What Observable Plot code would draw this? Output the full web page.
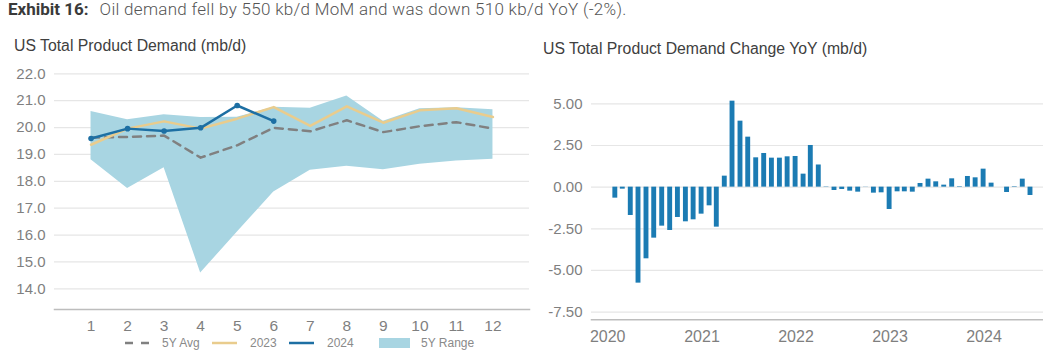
<!DOCTYPE html>
<html>
<head>
<meta charset="utf-8">
<script src="https://cdn.jsdelivr.net/npm/d3@7"></script>
<script src="https://cdn.jsdelivr.net/npm/@observablehq/plot@0.6"></script>
<style>
  html, body { margin: 0; padding: 0; background: #fff; }
  #root { position: relative; width: 1043px; height: 358px; overflow: hidden; font-family: "Liberation Sans", Arial, sans-serif; }
  .abs { position: absolute; }
  #title { left: 8px; top: -1px; font-family: Roboto, sans-serif; font-size: 17px; white-space: nowrap; line-height: 20px; }
  #title b { font-weight: 700; color: #3a3a3a; margin-right: 11px; }
  #title span { font-weight: 300; color: #555; letter-spacing: 0.3px; }
  .ctitle { font-size: 15.8px; color: #404040; white-space: nowrap; }
  .leg { position: absolute; top: 336px; height: 14px; font-size: 12px; color: #8a8a8a; display: flex; align-items: center; white-space: nowrap; }
</style>
</head>
<body>
<div id="root">
  <div id="title" class="abs"><b>Exhibit 16:</b><span>Oil demand fell by 550 kb/d MoM and was down 510 kb/d YoY (-2%).</span></div>
  <div class="abs ctitle" style="left:14px; top:37px;">US Total Product Demand (mb/d)</div>
  <div class="abs ctitle" style="left:543px; top:40px;">US Total Product Demand Change YoY (mb/d)</div>
  <div id="left" class="abs" style="left:0px; top:60px;"></div>
  <div id="right" class="abs" style="left:530px; top:60px;"></div>
  <div id="legend"></div>
</div>
<script>
// ---------- Left chart data (mb/d) ----------
const months = [1, 2, 3, 4, 5, 6, 7, 8, 9, 10, 11, 12];
const range5yLow  = [18.80, 17.73, 18.50, 14.59, 16.10, 17.60, 18.41, 18.56, 18.43, 18.63, 18.76, 18.82];
const range5yHigh = [20.60, 20.29, 20.48, 20.37, 20.38, 20.76, 20.72, 21.17, 20.23, 20.70, 20.74, 20.66];
const avg5y       = [19.63, 19.65, 19.70, 18.88, 19.34, 19.99, 19.86, 20.27, 19.83, 20.05, 20.20, 19.96];
const demand2023  = [19.36, 19.96, 20.23, 19.96, 20.33, 20.76, 20.06, 20.79, 20.18, 20.64, 20.72, 20.39];
const demand2024  = [19.59, 19.96, 19.87, 19.99, 20.82, 20.24];
const leftYTicks  = [14, 15, 16, 17, 18, 19, 20, 21, 22];

// ---------- Right chart data (mb/d YoY change), Jan 2020 .. Jun 2024 ----------
const yoyChange = [
  -0.66, -0.12, -1.70, -5.76, -4.30, -3.06, -2.34, -2.60, -1.82, -2.08, -1.96, -1.62,
  -1.12, -2.40,  0.66,  5.16,  3.96,  3.00,  1.76,  2.02,  1.74,  1.74,  1.82,  1.84,
   0.78,  2.50,  1.33, -0.02, -0.20, -0.14, -0.24, -0.30,  0.01, -0.36, -0.34, -1.34,
  -0.28, -0.28, -0.30,  0.22,  0.48,  0.32,  0.12,  0.50,  0.03,  0.64,  0.56,  1.08,
   0.24,  0.00, -0.32,  0.03,  0.48, -0.50
];
const rightYTicks = [-7.5, -5, -2.5, 0, 2.5, 5];
const yearTicks = [2020, 2021, 2022, 2023, 2024];

// ---------- Colours ----------
const cRange = "#a8d5e2";
const cAvg = "#808080";
const c2023 = "#e9cc8d";
const c2024 = "#1d6fa3";
const cBar = "#1b7bb3";
const cGrid = "#e6e6e6";
const cAxis = "#bdbdbd";
const cTick = "#7f7f7f";

// ---------- Build tables ----------
const rangeData = months.map((m, i) => ({m, lo: range5yLow[i], hi: range5yHigh[i]}));
const avgData = months.map((m, i) => ({m, v: avg5y[i]}));
const d2023 = months.map((m, i) => ({m, v: demand2023[i]}));
const d2024 = demand2024.map((v, i) => ({m: months[i], v}));

const left = Plot.plot({
  width: 529, height: 277,
  marginLeft: 54, marginRight: 0, marginTop: 13.3, marginBottom: 28,
  x: {domain: [0, 13]},
  y: {domain: [13.23, 22]},
  style: {fontFamily: '"Liberation Sans", Arial, sans-serif', fontSize: "15px", color: cTick, background: "transparent", overflow: "visible"},
  marks: [
    Plot.gridY(leftYTicks, {stroke: cGrid, strokeOpacity: 1, strokeWidth: 1.2}),
    Plot.areaY(rangeData, {x: "m", y1: "lo", y2: "hi", fill: cRange, fillOpacity: 1}),
    Plot.lineY(avgData, {x: "m", y: "v", stroke: cAvg, strokeWidth: 2.5, strokeDasharray: "8,6"}),
    Plot.lineY(d2023, {x: "m", y: "v", stroke: c2023, strokeWidth: 2.5}),
    Plot.lineY(d2024, {x: "m", y: "v", stroke: c2024, strokeWidth: 2.5}),
    Plot.dot(d2024, {x: "m", y: "v", r: 2.8, fill: c2024, stroke: "none"}),
    Plot.frame({anchor: "bottom", stroke: cAxis, strokeWidth: 1.5}),
    Plot.axisY({ticks: leftYTicks, tickSize: 0, tickPadding: 9, tickFormat: d => d.toFixed(1), label: null, fontSize: 15}),
    Plot.axisX({ticks: months, tickSize: 0, tickPadding: 10, tickFormat: d => String(d), label: null, fontSize: 15.5})
  ]
});
document.getElementById("left").appendChild(left);

// month-end dates for the bars
const yoyData = yoyChange.map((v, i) => {
  const start = d3.utcMonth.offset(new Date(Date.UTC(2020, 0, 1)), i);
  const end = d3.utcDay.offset(d3.utcMonth.offset(start, 1), -1);
  return {date: end, v};
});
const yearDates = yearTicks.map(y => new Date(Date.UTC(y, 0, 1)));

const right = Plot.plot({
  width: 513, height: 290,
  marginLeft: 61, marginRight: 0, marginTop: 10, marginBottom: 30.7,
  x: {type: "utc", domain: [new Date(Date.UTC(2019, 9, 30)), new Date(Date.UTC(2024, 7, 19))]},
  y: {domain: [-7.96, 7.0]},
  style: {fontFamily: '"Liberation Sans", Arial, sans-serif', fontSize: "15px", color: cTick, background: "transparent", overflow: "visible"},
  marks: [
    Plot.gridY(rightYTicks, {stroke: cGrid, strokeOpacity: 1, strokeWidth: 1.2}),
    Plot.rectY(yoyData, {
      x1: d => d3.utcDay.offset(d.date, -10),
      x2: d => d3.utcDay.offset(d.date, 9),
      y: "v", fill: cBar
    }),
    Plot.frame({anchor: "bottom", stroke: cAxis, strokeWidth: 1.5}),
    Plot.axisY({ticks: rightYTicks, tickSize: 0, tickPadding: 9, tickFormat: d => d.toFixed(2), label: null, fontSize: 15}),
    Plot.axisX({ticks: yearDates, tickSize: 0, tickPadding: 11, tickFormat: d => String(d.getUTCFullYear()), label: null, fontSize: 16})
  ]
});
document.getElementById("right").appendChild(right);

// ---------- Legend (HTML) ----------
const legendItems = [
  {label: "5Y Avg", kind: "dash", color: cAvg, x: 125},
  {label: "2023", kind: "line", color: c2023, x: 212},
  {label: "2024", kind: "line", color: c2024, x: 289},
  {label: "5Y Range", kind: "rect", color: cRange, x: 379}
];
const legend = document.getElementById("legend");
for (const it of legendItems) {
  const el = document.createElement("div");
  el.className = "leg";
  el.style.left = it.x + "px";
  let sw;
  if (it.kind === "dash") {
    sw = `<svg width="25" height="4" style="margin-right:12px"><line x1="0" x2="25" y1="2" y2="2" stroke="${it.color}" stroke-width="2.5" stroke-dasharray="8,8"/></svg>`;
  } else if (it.kind === "line") {
    sw = `<svg width="25" height="4" style="margin-right:13px"><line x1="0" x2="25" y1="2" y2="2" stroke="${it.color}" stroke-width="2.5"/></svg>`;
  } else {
    sw = `<svg width="31" height="10" style="margin-right:11px"><rect width="31" height="10" fill="${it.color}"/></svg>`;
  }
  el.innerHTML = sw + `<span>${it.label}</span>`;
  legend.appendChild(el);
}
</script>
</body>
</html>
